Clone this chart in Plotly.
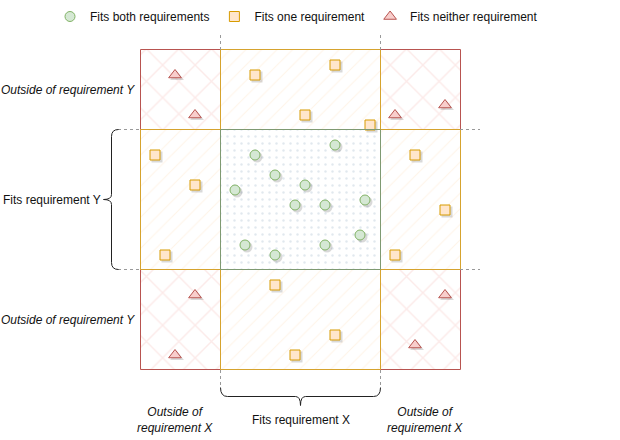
import plotly.graph_objects as go

# region boundaries (x: left to right, y: bottom to top), in px-like units
x_edges = [0, 80, 240, 320]
y_edges = [0, 100, 240, 320]

# points
both_x = [195, 115, 135, 165, 95, 155, 185, 225, 220, 105, 135, 185]
both_y = [225, 215, 195, 185, 180, 165, 165, 170, 135, 125, 115, 125]

one_x = [115, 195, 165, 230, 15, 55, 25, 275, 305, 255, 135, 195, 155]
one_y = [295, 305, 255, 245, 215, 185, 115, 215, 160, 115, 85, 35, 15]

neither_x = [35, 55, 255, 305, 55, 35, 305, 275]
neither_y = [295, 255, 255, 265, 75, 15, 75, 25]

series_names = ["Fits both requirements", "Fits one requirement", "Fits neither requirement"]

FONT = "Helvetica, Arial, Liberation Sans, sans-serif"
W, H = 620, 440

# style per number of fitted requirements (0, 1, 2)
cell_styles = {
    0: dict(line="#b85450", shape="x", fg="#f9d6d4", size=23, solid=0.12),
    1: dict(line="#d6a32e", shape="/", fg="#feead2", size=11, solid=0.1),
    2: dict(line="#7f9a72", shape=".", fg="#c3d1dd", size=7, solid=0.1),
}

fig = go.Figure()

# grid cells, drawn corners first so the inner borders sit on top
cells = []
for i in range(3):
    for j in range(3):
        cells.append(((i == 1) + (j == 1), i, j))
cells.sort(key=lambda c: c[0])

for kind, i, j in cells:
    st = cell_styles[kind]
    x0, x1 = x_edges[i], x_edges[i + 1]
    y0, y1 = y_edges[j], y_edges[j + 1]
    fig.add_trace(go.Bar(
        x=[(x0 + x1) / 2], y=[y1 - y0], base=[y0], width=[x1 - x0],
        marker=dict(
            color="white",
            line=dict(width=0),
            pattern=dict(shape=st["shape"], fgcolor=st["fg"], bgcolor="white",
                         size=st["size"], solidity=st["solid"]),
        ),
        showlegend=False, hoverinfo="skip",
    ))
    # crisp 1px border: nudge half a unit onto the pixel grid
    fig.add_shape(type="rect", x0=x0 + 0.5, x1=x1 + 0.5, y0=y0 + 0.5, y1=y1 + 0.5,
                  line=dict(color=st["line"], width=1), fillcolor="rgba(0,0,0,0)",
                  layer="above")

marker_styles = [
    (both_x, both_y, "circle", 10, "#d5e8d4", "#82b366"),
    (one_x, one_y, "square", 10, "#ffe6cc", "#d79b00"),
    (neither_x, neither_y, "triangle-up", 11, "#f8cecc", "#b85450"),
]

# soft shadows
for xs, ys, sym, sz, fill, line in marker_styles:
    fig.add_trace(go.Scatter(
        x=[v + 2 for v in xs], y=[v - 2 for v in ys], mode="markers",
        marker=dict(symbol=sym, size=sz + 1, color="rgba(0,0,0,0.15)", line=dict(width=0)),
        showlegend=False, hoverinfo="skip",
    ))

for (xs, ys, sym, sz, fill, line), name in zip(marker_styles, series_names):
    fig.add_trace(go.Scatter(
        x=xs, y=ys, mode="markers", name=name,
        marker=dict(symbol=sym, size=sz, color=fill, line=dict(color=line, width=1)),
    ))

# dashed guide lines and braces
guide = dict(color="#999999", width=1, dash="3px,3px")
for xv in x_edges[1:3]:
    fig.add_shape(type="line", x0=xv + 0.5, x1=xv + 0.5, y0=y_edges[-1], y1=y_edges[-1] + 18, line=guide)
    fig.add_shape(type="line", x0=xv + 0.5, x1=xv + 0.5, y0=0, y1=-18, line=guide)
for yv in y_edges[1:3]:
    fig.add_shape(type="line", x0=x_edges[-1], x1=x_edges[-1] + 20, y0=yv + 0.5, y1=yv + 0.5, line=guide)
    fig.add_shape(type="line", x0=-22, x1=0, y0=yv + 0.5, y1=yv + 0.5, line=guide)

brace = dict(color="#222222", width=1)
ylo, yhi = y_edges[1] + 0.5, y_edges[2] + 0.5
ym = (ylo + yhi) / 2
bx = -28.5
fig.add_shape(type="path", line=brace, path=(
    f"M {bx + 7},{yhi} Q {bx},{yhi} {bx},{yhi - 7} L {bx},{ym + 5} "
    f"Q {bx},{ym} {bx - 8},{ym} Q {bx},{ym} {bx},{ym - 5} "
    f"L {bx},{ylo + 7} Q {bx},{ylo} {bx + 7},{ylo}"))

xlo, xhi = x_edges[1] + 0.5, x_edges[2] + 0.5
xm = (xlo + xhi) / 2
by = -26.5
fig.add_shape(type="path", line=brace, path=(
    f"M {xlo},{by + 9} Q {xlo},{by} {xlo + 7},{by} L {xm - 5},{by} "
    f"Q {xm},{by} {xm},{by - 9} Q {xm},{by} {xm + 5},{by} "
    f"L {xhi - 7},{by} Q {xhi},{by} {xhi},{by + 9}"))

# labels
txt = dict(family=FONT, size=12, color="#111111")
fig.add_annotation(x=-3, y=(y_edges[2] + y_edges[3]) / 2, text="<i>Outside of requirement Y</i>",
                   xanchor="right", showarrow=False, font=txt)
fig.add_annotation(x=-3, y=(y_edges[0] + y_edges[1]) / 2, text="<i>Outside of requirement Y</i>",
                   xanchor="right", showarrow=False, font=txt)
fig.add_annotation(x=bx - 9, y=ym, text="Fits requirement Y", xanchor="right", showarrow=False, font=txt)
fig.add_annotation(x=xm, y=-50, text="Fits requirement X", showarrow=False, font=txt)
fig.add_annotation(x=35, y=-50, text="<i>Outside of<br>requirement X</i>", showarrow=False, font=txt)
fig.add_annotation(x=285, y=-50, text="<i>Outside of<br>requirement X</i>", showarrow=False, font=txt)

fig.update_layout(
    width=W, height=H,
    margin=dict(l=0, r=0, t=0, b=0),
    paper_bgcolor="white", plot_bgcolor="white",
    barmode="overlay", bargap=0,
    font=dict(family=FONT, size=12, color="#111111"),
    showlegend=True,
    legend=dict(orientation="h", x=50 / W, y=1 - 2 / H, xanchor="left", yanchor="top",
                itemwidth=30, font=dict(size=12), bgcolor="rgba(0,0,0,0)"),
    xaxis=dict(range=[-140, 480], visible=False, fixedrange=True),
    yaxis=dict(range=[-70, 370], visible=False, fixedrange=True),
)

# drop the default page margin so the figure fills the window exactly
fig.write_html("out.html", config={"displayModeBar": False},
               post_script="document.body.style.margin = '0';")
